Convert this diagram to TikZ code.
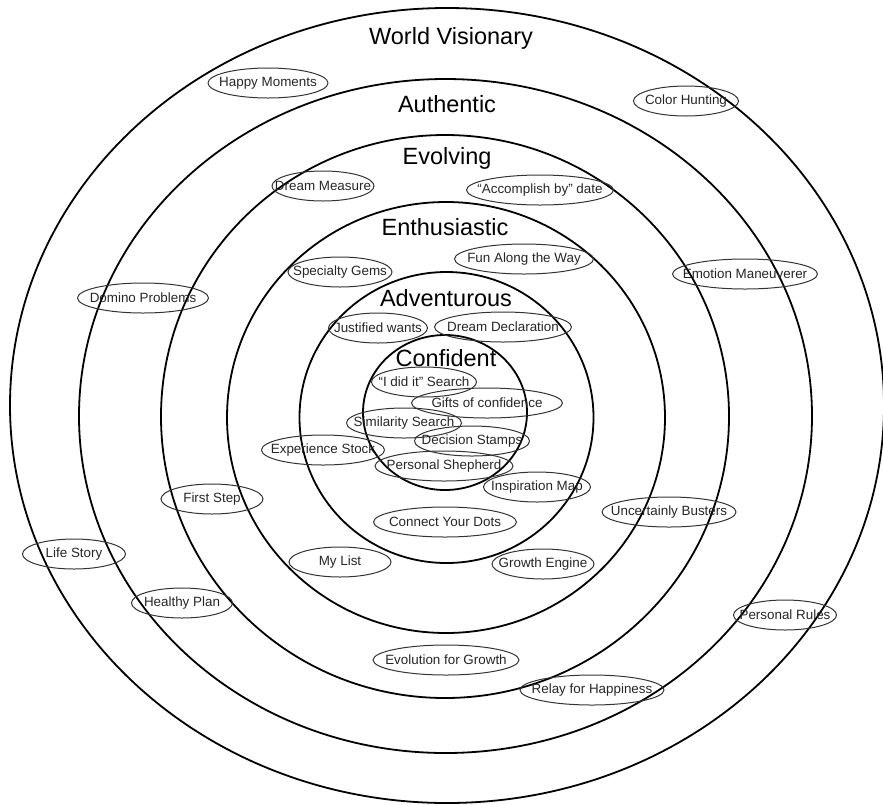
\documentclass[tikz,border=0pt]{standalone}
\usepackage{fontspec}
\setmainfont{Liberation Sans}
\usetikzlibrary{shapes.geometric}
\definecolor{tagGray}{rgb}{0.2, 0.2, 0.2}
\tikzset{
	ring/.style={line width=1.8pt, black},
	ringlabel/.style={anchor=base, font=\fontsize{23.5}{27}\selectfont},
	tag/.style={ellipse, draw=tagGray, line width=1pt, inner xsep=-30pt, inner ysep=0pt,
		minimum height=30pt, text=black!85, font=\fontsize{13.4}{15}\selectfont},
}

\begin{document}
\begin{tikzpicture}[x=1pt, y=-1pt, line cap=round]
	\useasboundingbox (0,0) rectangle (883,804);

	% the six rings, outside in
	\draw[ring] (447,405.5) ellipse [x radius=437pt, y radius=397.5pt];
	\draw[ring] (445.5,416) ellipse [x radius=366.5pt, y radius=337pt];
	\draw[ring] (445,416.5) ellipse [x radius=284pt, y radius=281.5pt];
	\draw[ring] (446,417.5) ellipse [x radius=219pt, y radius=215.5pt];
	\draw[ring] (446.5,417.5) ellipse [x radius=147pt, y radius=145.5pt];
	\draw[ring] (445,412.5) ellipse [x radius=82pt, y radius=77.5pt];

	\node[ringlabel] (visionary) at (451,44) {World Visionary};
	\node[ringlabel] (authentic) at (447,112) {Authentic};
	\node[ringlabel] (evolving) at (447,164) {Evolving};
	\node[ringlabel] (enthusiastic) at (445,235) {Enthusiastic};
	\node[ringlabel] (adventurous) at (446,306) {Adventurous};
	\node[ringlabel] (confident) at (446,366) {Confident};

	% tags
	\node[tag, minimum width=120pt] (happy) at (268,83) {Happy Moments};
	\node[tag, minimum width=105pt] (colorhunt) at (686,101) {Color Hunting};
	\node[tag, minimum width=102pt] (measure) at (323,186) {Dream Measure};
	\node[tag, minimum width=147pt] (accomplish) at (540,190) {“Accomplish by” date};
	\node[tag, minimum width=139pt] (fun) at (524,259) {Fun Along the Way};
	\node[tag, minimum width=145pt] (emotion) at (745,274) {Emotion Maneuverer};
	\node[tag, minimum width=104pt] (gems) at (340,272) {Specialty Gems};
	\node[tag, minimum width=131pt] (domino) at (143,298) {Domino Problems};
	\node[tag, minimum width=99pt] (justified) at (378,328) {Justified wants};
	\node[tag, minimum width=137pt] (declaration) at (503,327) {Dream Declaration};
	\node[tag, minimum width=105pt] (ididit) at (424,382) {“I did it” Search};
	\node[tag, minimum width=151pt] (gifts) at (487,403) {Gifts of confidence};
	\node[tag, minimum width=115pt] (similarity) at (404,423) {Similarity Search};
	\node[tag, minimum width=115pt] (decision) at (472,441) {Decision Stamps};
	\node[tag, minimum width=123pt] (experience) at (323,450) {Experience Stock};
	\node[tag, minimum width=138pt] (shepherd) at (444,466) {Personal Shepherd};
	\node[tag, minimum width=107pt] (inspiration) at (537,487) {Inspiration Map};
	\node[tag, minimum width=143pt] (dots) at (445,522) {Connect Your Dots};
	\node[tag, minimum width=102pt] (firststep) at (212,499) {First Step};
	\node[tag, minimum width=134pt] (busters) at (669,512) {Uncertainly Busters};
	\node[tag, minimum width=103pt] (lifestory) at (74,554) {Life Story};
	\node[tag, minimum width=102pt] (mylist) at (340,562) {My List};
	\node[tag, minimum width=102pt] (engine) at (543,564) {Growth Engine};
	\node[tag, minimum width=101pt] (healthy) at (182,603) {Healthy Plan};
	\node[tag, minimum width=103pt] (rules) at (785,615) {Personal Rules};
	\node[tag, minimum width=146pt] (evolution) at (446,660) {Evolution for Growth};
	\node[tag, minimum width=144pt] (relay) at (592,690) {Relay for Happiness};

\end{tikzpicture}
\end{document}
